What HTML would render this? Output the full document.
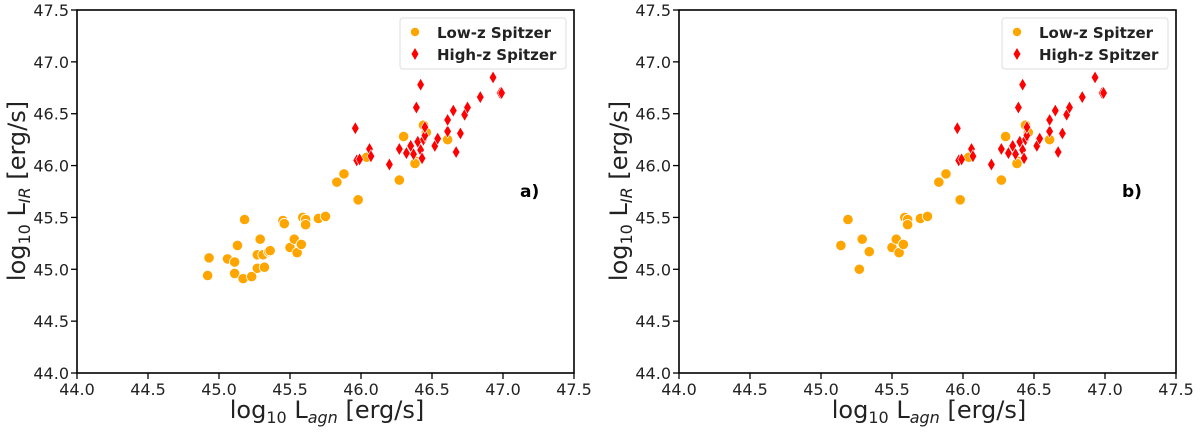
<!DOCTYPE html>
<html><head><meta charset="utf-8"><style>
html,body{margin:0;padding:0;background:#fff;}
svg{display:block;font-family:"DejaVu Sans","Liberation Sans",sans-serif;}
</style></head><body>
<svg id="fig" width="1200" height="432" viewBox="0 0 1200 432"></svg>
<script>
const lowX=[44.93,44.92,45.06,45.11,45.11,45.17,45.13,45.18,45.23,45.27,45.32,45.27,45.31,45.35,45.36,45.29,45.45,45.46,45.50,45.53,45.55,45.58,45.59,45.61,45.61,45.70,45.75,45.83,45.88,45.98,46.04,46.27,46.30,46.61,46.39,46.38,46.44,46.46];
const lowY=[45.11,44.94,45.10,45.07,44.96,44.91,45.23,45.48,44.93,45.01,45.02,45.14,45.14,45.17,45.18,45.29,45.47,45.44,45.21,45.29,45.16,45.24,45.50,45.48,45.43,45.49,45.51,45.84,45.92,45.67,46.08,45.86,46.28,46.25,46.04,46.02,46.39,46.32];
const lowX2=[45.14,45.19,45.27,45.29,45.34,45.50,45.53,45.55,45.58,45.59,45.61,45.61,45.70,45.75,45.83,45.88,45.98,46.04,46.27,46.30,46.61,46.39,46.38,46.44,46.46];
const lowY2=[45.23,45.48,45.00,45.29,45.17,45.21,45.29,45.16,45.24,45.50,45.48,45.43,45.49,45.51,45.84,45.92,45.67,46.08,45.86,46.28,46.25,46.04,46.02,46.39,46.32];
const highX=[45.96,45.97,45.99,46.06,46.07,46.20,46.27,46.32,46.35,46.37,46.40,46.42,46.43,46.44,46.45,46.45,46.39,46.42,46.52,46.54,46.61,46.61,46.65,46.67,46.70,46.73,46.75,46.84,46.93,46.98,46.99];
const highY=[46.36,46.05,46.06,46.16,46.09,46.01,46.16,46.12,46.19,46.11,46.23,46.15,46.07,46.25,46.29,46.37,46.56,46.78,46.19,46.26,46.33,46.44,46.53,46.13,46.31,46.49,46.56,46.66,46.85,46.70,46.70];
const ticks=[44.0,44.5,45.0,45.5,46.0,46.5,47.0,47.5];

const svg=document.getElementById('fig');
const NS='http://www.w3.org/2000/svg';
function mk(tag,attrs,parent){const e=document.createElementNS(NS,tag);for(const k in attrs)e.setAttribute(k,attrs[k]);(parent||svg).appendChild(e);return e;}

function panel(x0,label,lx,ly,name){
  const W=497,top=10,bot=373;
  const sx=v=>x0+(v-44)/3.5*W;
  const sy=v=>bot-(v-44)/3.5*(bot-top);
  const g=mk('g',{});
  
  
  ticks.forEach(t=>{
    const a=mk('line',{x1:sx(t),x2:sx(t),y1:bot,y2:bot+6,stroke:'#000','stroke-width':1.3},g);
    
    
    const tx=mk('text',{x:sx(t),y:bot+22,'text-anchor':'middle','font-size':16,fill:'#222'},g);
    tx.textContent=t.toFixed(1);
    
    
    const b=mk('line',{x1:x0-6,x2:x0,y1:sy(t),y2:sy(t),stroke:'#000','stroke-width':1.3},g);
    
    
    const ty=mk('text',{x:x0-8,y:sy(t)+6,'text-anchor':'end','font-size':16,fill:'#222'},g);
    ty.textContent=t.toFixed(1);
    
    
  });
  for(let i=0;i<lx.length;i++){
    const c=mk('circle',{cx:sx(lx[i]),cy:sy(ly[i]),r:5.2,fill:'#ffa500',stroke:'#fff','stroke-width':0.8},g);
    
    
  }
  for(let i=0;i<highX.length;i++){
    const x=sx(highX[i]),y=sy(highY[i]);
    const p=mk('polygon',{points:`${x},${y-6.5} ${x+3.8},${y} ${x},${y+6.5} ${x-3.8},${y}`,fill:'#f00',stroke:'#fff','stroke-width':0.6},g);
    
    
  }
  const fr=mk('rect',{x:x0,y:top,width:W,height:bot-top,fill:'none',stroke:'#000','stroke-width':1.6},g);
  
  
  // legend
  const lg=mk('g',{},g);
  
  
  mk('rect',{x:x0+323,y:18,width:166,height:51,rx:3,fill:'#fff',stroke:'#ddd','stroke-width':1},lg);
  mk('circle',{cx:x0+338,cy:32,r:4.2,fill:'#ffa500'},lg);
  const lx1=x0+338,ly1=54;
  mk('polygon',{points:`${lx1},${ly1-6} ${lx1+3.5},${ly1} ${lx1},${ly1+6} ${lx1-3.5},${ly1}`,fill:'#f00'},lg);
  const t1=mk('text',{x:x0+360,y:38,'font-size':15,'font-weight':'bold',fill:'#222'},lg);t1.textContent='Low-z Spitzer';
  
  
  const t2=mk('text',{x:x0+360,y:60,'font-size':15,'font-weight':'bold',fill:'#222'},lg);t2.textContent='High-z Spitzer';
  
  
  const pl=mk('text',{x:x0+443,y:197,'font-size':17,'font-weight':'bold',fill:'#000'},g);pl.textContent=label;
  
  
  const xl=mk('text',{x:x0+250,y:418,'text-anchor':'middle','font-size':24,fill:'#222'},g);
  xl.innerHTML='log<tspan font-size="16" dy="5">10</tspan><tspan dy="-5"> L</tspan><tspan font-size="16" dy="5" font-style="italic">agn</tspan><tspan dy="-5"> [erg/s]</tspan>';
  
  
  const yl=mk('text',{x:0,y:0,'text-anchor':'middle','font-size':24,fill:'#222',transform:`translate(${x0-52},${191}) rotate(-90)`},g);
  yl.innerHTML='log<tspan font-size="16" dy="5">10</tspan><tspan dy="-5"> L</tspan><tspan font-size="16" dy="5" font-style="italic">IR</tspan><tspan dy="-5"> [erg/s]</tspan>';
  
  
}
panel(77,'a)',lowX,lowY,'panel-a');
panel(679,'b)',lowX2,lowY2,'panel-b');
</script>
</body></html>
